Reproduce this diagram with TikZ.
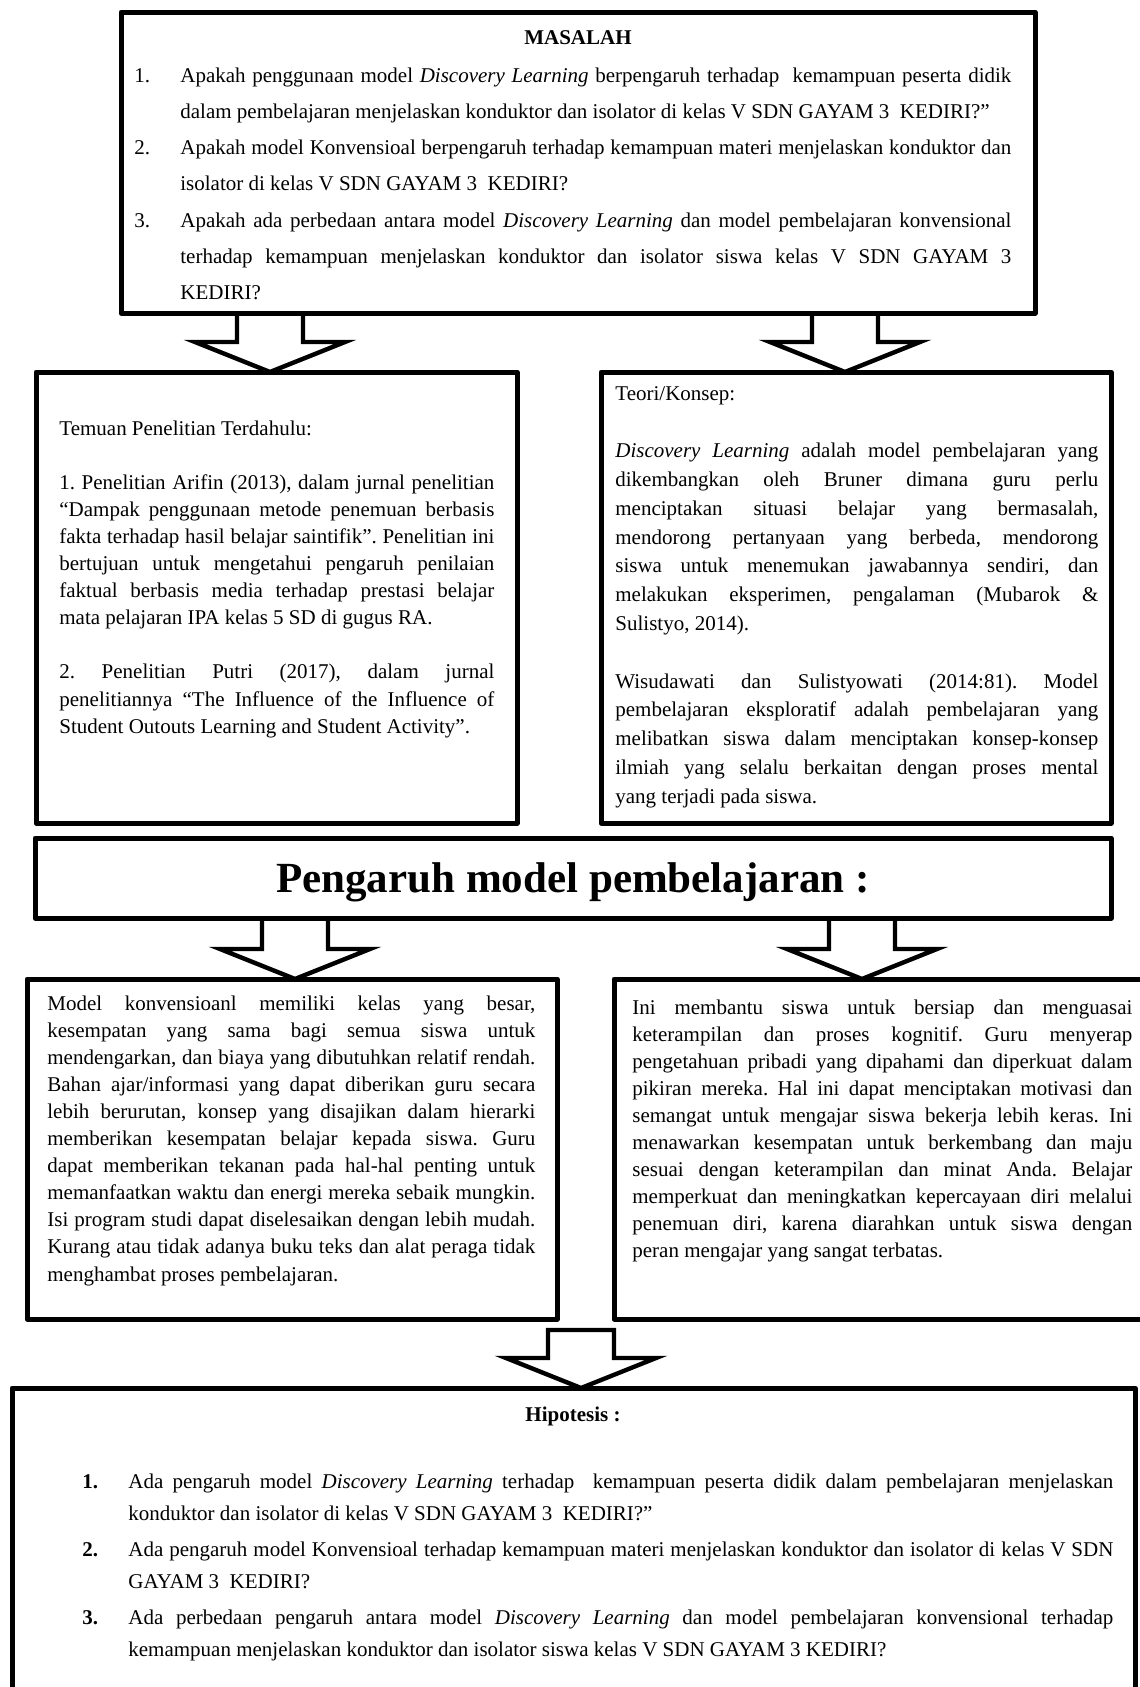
\documentclass[tikz,border=0pt]{standalone}
\usepackage{fontspec}
\setmainfont{Liberation Serif}
\usetikzlibrary{calc,fit}

\hyphenpenalty=10000
\exhyphenpenalty=10000
\frenchspacing

% nomor butir dengan hanging indent
\newcommand{\numitem}[1]{\hangindent=23pt\hangafter=1\noindent\makebox[23pt][l]{#1}}
% panah blok berongga: posisi x, kotak atas, kotak bawah
\newcommand{\blockarrow}[3]{%
    \coordinate (top) at (#1,0 |- #2.south);
    \coordinate (tip) at (#1,0 |- #3.north);
    \draw[arrowline] ($(top)+(-33,0)$) -- ($(tip)+(-33,-30)$) -- ($(tip)+(-75,-30)$) -- (tip)
        -- ($(tip)+(75,-30)$) -- ($(tip)+(33,-30)$) -- ($(top)+(33,0)$);
}

\begin{document}
\begin{tikzpicture}[x=0.5pt, y=-0.5pt,
    panel/.style={draw, line width=2.5pt, line join=round, inner sep=0pt, outer sep=0pt},
    arrowline/.style={line width=2.2pt, line join=miter},
    bodytext/.style={anchor=base west, inner sep=0pt, align=justify, font=\fontsize{10.5pt}{13.55pt}\selectfont},
    titletext/.style={anchor=base, inner sep=0pt, font=\fontsize{10.5pt}{13.55pt}\selectfont\bfseries}]
    \useasboundingbox (0,0) rectangle (1140,1687);
    \clip (0,0) rectangle (1140,1687);

    % Masalah
    \node[panel, fit={(121,12) (1035,313)}] (masalah) {};
    \node[titletext] (masalahjudul) at (578,44) {MASALAH};
    \node[bodytext, text width=438.5pt, font=\fontsize{10.5pt}{18.15pt}\selectfont] (masalahisi) at (134,82) {%
        \numitem{1.}Apakah penggunaan model \textit{Discovery Learning} berpengaruh terhadap~ kemampuan peserta didik\linebreak
        dalam pembelajaran menjelaskan konduktor dan isolator di kelas V SDN GAYAM 3~ KEDIRI?”\par
        \numitem{2.}Apakah model Konvensioal berpengaruh terhadap kemampuan materi menjelaskan konduktor dan\linebreak
        isolator di kelas V SDN GAYAM 3~ KEDIRI?\par
        \numitem{3.}Apakah ada perbedaan antara model \textit{Discovery Learning} dan model pembelajaran konvensional\linebreak
        terhadap kemampuan menjelaskan konduktor dan isolator siswa kelas V SDN GAYAM 3\linebreak
        KEDIRI?\par};

    % Temuan penelitian terdahulu
    \node[panel, fit={(36,372) (517,823)}] (temuan) {};
    \node[bodytext, text width=217.5pt] (temuanisi) at (59,435) {%
        Temuan Penelitian Terdahulu:\par\vspace{\baselineskip}
        1. Penelitian Arifin (2013), dalam jurnal penelitian\linebreak
        “Dampak penggunaan metode penemuan berbasis\linebreak
        fakta terhadap hasil belajar saintifik”. Penelitian ini\linebreak
        bertujuan untuk mengetahui pengaruh penilaian\linebreak
        faktual berbasis media terhadap prestasi belajar\linebreak
        mata pelajaran IPA kelas 5 SD di gugus RA.\par\vspace{\baselineskip}
        2. Penelitian Putri (2017), dalam jurnal\linebreak
        penelitiannya “The Influence of the Influence of\linebreak
        Student Outouts Learning and Student Activity”.};

    % Teori/Konsep
    \node[panel, fit={(601,372) (1111,823)}] (teori) {};
    \node[bodytext, text width=241.5pt, font=\fontsize{10.5pt}{14.4pt}\selectfont] (teoriisi) at (615,400) {%
        Teori/Konsep:\par\vspace{\baselineskip}
        \textit{Discovery Learning} adalah model pembelajaran yang\linebreak
        dikembangkan oleh Bruner dimana guru perlu\linebreak
        menciptakan situasi belajar yang bermasalah,\linebreak
        mendorong pertanyaan yang berbeda, mendorong\linebreak
        siswa untuk menemukan jawabannya sendiri, dan\linebreak
        melakukan eksperimen, pengalaman (Mubarok \&\linebreak
        Sulistyo, 2014).\par\vspace{\baselineskip}
        Wisudawati dan Sulistyowati (2014:81). Model\linebreak
        pembelajaran eksploratif adalah pembelajaran yang\linebreak
        melibatkan siswa dalam menciptakan konsep-konsep\linebreak
        ilmiah yang selalu berkaitan dengan proses mental\linebreak
        yang terjadi pada siswa.};

    % Pengaruh model pembelajaran
    \node[panel, fit={(35,838) (1111,918)}] (pengaruh) {};
    \node[anchor=base, inner sep=0pt, font=\fontsize{21.5pt}{25pt}\selectfont\bfseries] (pengaruhjudul) at (573,892) {Pengaruh model pembelajaran :};

    % Model konvensional
    \node[panel, fit={(27,979) (557,1319)}] (konv) {};
    \node[bodytext, text width=244pt] (konvisi) at (47,1010) {%
        Model konvensioanl memiliki kelas yang besar,\linebreak
        kesempatan yang sama bagi semua siswa untuk\linebreak
        mendengarkan, dan biaya yang dibutuhkan relatif rendah.\linebreak
        Bahan ajar/informasi yang dapat diberikan guru secara\linebreak
        lebih berurutan, konsep yang disajikan dalam hierarki\linebreak
        memberikan kesempatan belajar kepada siswa. Guru\linebreak
        dapat memberikan tekanan pada hal-hal penting untuk\linebreak
        memanfaatkan waktu dan energi mereka sebaik mungkin.\linebreak
        Isi program studi dapat diselesaikan dengan lebih mudah.\linebreak
        Kurang atau tidak adanya buku teks dan alat peraga tidak\linebreak
        menghambat proses pembelajaran.};

    % Discovery Learning
    \node[panel, fit={(614,979) (1170,1319)}] (disc) {};
    \node[bodytext, text width=250pt] (discisi) at (632,1014) {%
        Ini membantu siswa untuk bersiap dan menguasai\linebreak
        keterampilan dan proses kognitif. Guru menyerap\linebreak
        pengetahuan pribadi yang dipahami dan diperkuat dalam\linebreak
        pikiran mereka. Hal ini dapat menciptakan motivasi dan\linebreak
        semangat untuk mengajar siswa bekerja lebih keras. Ini\linebreak
        menawarkan kesempatan untuk berkembang dan maju\linebreak
        sesuai dengan keterampilan dan minat Anda. Belajar\linebreak
        memperkuat dan meningkatkan kepercayaan diri melalui\linebreak
        penemuan diri, karena diarahkan untuk siswa dengan\linebreak
        peran mengajar yang sangat terbatas.};

    % Hipotesis
    \node[panel, fit={(12,1388) (1135,1720)}] (hipotesis) {};
    \node[titletext] (hipotesisjudul) at (573,1421) {Hipotesis :};
    \node[bodytext, text width=515.5pt, font=\fontsize{10.5pt}{16.25pt}\selectfont] (hipotesisisi) at (82,1488) {%
        \setlength{\parskip}{1.5pt}%
        \numitem{\textbf{1.}}Ada pengaruh model \textit{Discovery Learning} terhadap~ kemampuan peserta didik dalam pembelajaran menjelaskan\linebreak
        konduktor dan isolator di kelas V SDN GAYAM 3~ KEDIRI?”\par
        \numitem{\textbf{2.}}Ada pengaruh model Konvensioal terhadap kemampuan materi menjelaskan konduktor dan isolator di kelas V SDN\linebreak
        GAYAM 3~ KEDIRI?\par
        \numitem{\textbf{3.}}Ada perbedaan pengaruh antara model \textit{Discovery Learning} dan model pembelajaran konvensional terhadap\linebreak
        kemampuan menjelaskan konduktor dan isolator siswa kelas V SDN GAYAM 3 KEDIRI?\par};

    % Panah
    \foreach \xpos/\upper/\lower in {270/masalah/temuan, 845/masalah/teori, 295/pengaruh/konv, 862/pengaruh/disc} {
        \blockarrow{\xpos}{\upper}{\lower}
    }
    \coordinate (top) at ($(581,0 |- konv.south)+(0,11)$);
    \coordinate (tip) at (581,0 |- hipotesis.north);
    \draw[arrowline] ($(top)+(-33,0)$) -- ($(tip)+(-33,-30)$) -- ($(tip)+(-75,-30)$) -- (tip)
        -- ($(tip)+(75,-30)$) -- ($(tip)+(33,-30)$) -- ($(top)+(33,0)$) -- cycle;
\end{tikzpicture}
\end{document}
